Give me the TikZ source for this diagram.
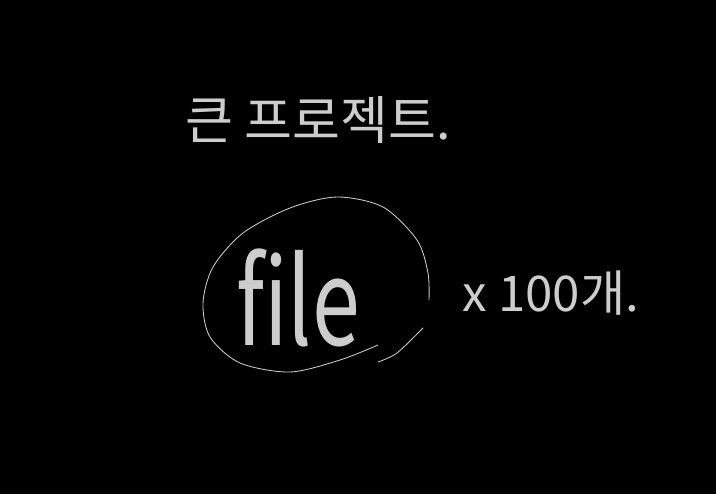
\documentclass[tikz,border=0pt]{standalone}
\usepackage{fontspec}
\newfontfamily\krfont{Noto Sans CJK KR}
\definecolor{chalk}{RGB}{205,205,205}
\tikzset{
  chalktext/.style={text=chalk, font=\krfont\fontsize{35}{40}\selectfont, inner sep=0pt},
  chalkline/.style={draw=chalk, line width=0.6pt, line cap=round}
}
\begin{document}
\begin{tikzpicture}[x=0.025cm, y=-0.025cm]
    \fill[black] (0,0) rectangle (716,494);
    \node[chalktext, font=\krfont\fontsize{37}{42}\selectfont] (title) at (318,120) {큰 프로젝트.};
    \node[chalktext, font=\krfont\fontsize{85}{95}\selectfont, xscale=0.72] (file) at (298,298) {file};
    \node[chalktext] (count) at (551,293) {x 100개.};
    \draw[chalkline] plot[smooth] coordinates {(378,345) (340,360) (290,372) (240,363) (210,337) (203,303) (213,267) (243,233) (290,208) (337,197) (383,207) (417,240) (428,273) (429,300)};
    \draw[chalkline] plot[smooth] coordinates {(378,362) (397,353) (423,328)};
  \end{tikzpicture}
\end{document}
